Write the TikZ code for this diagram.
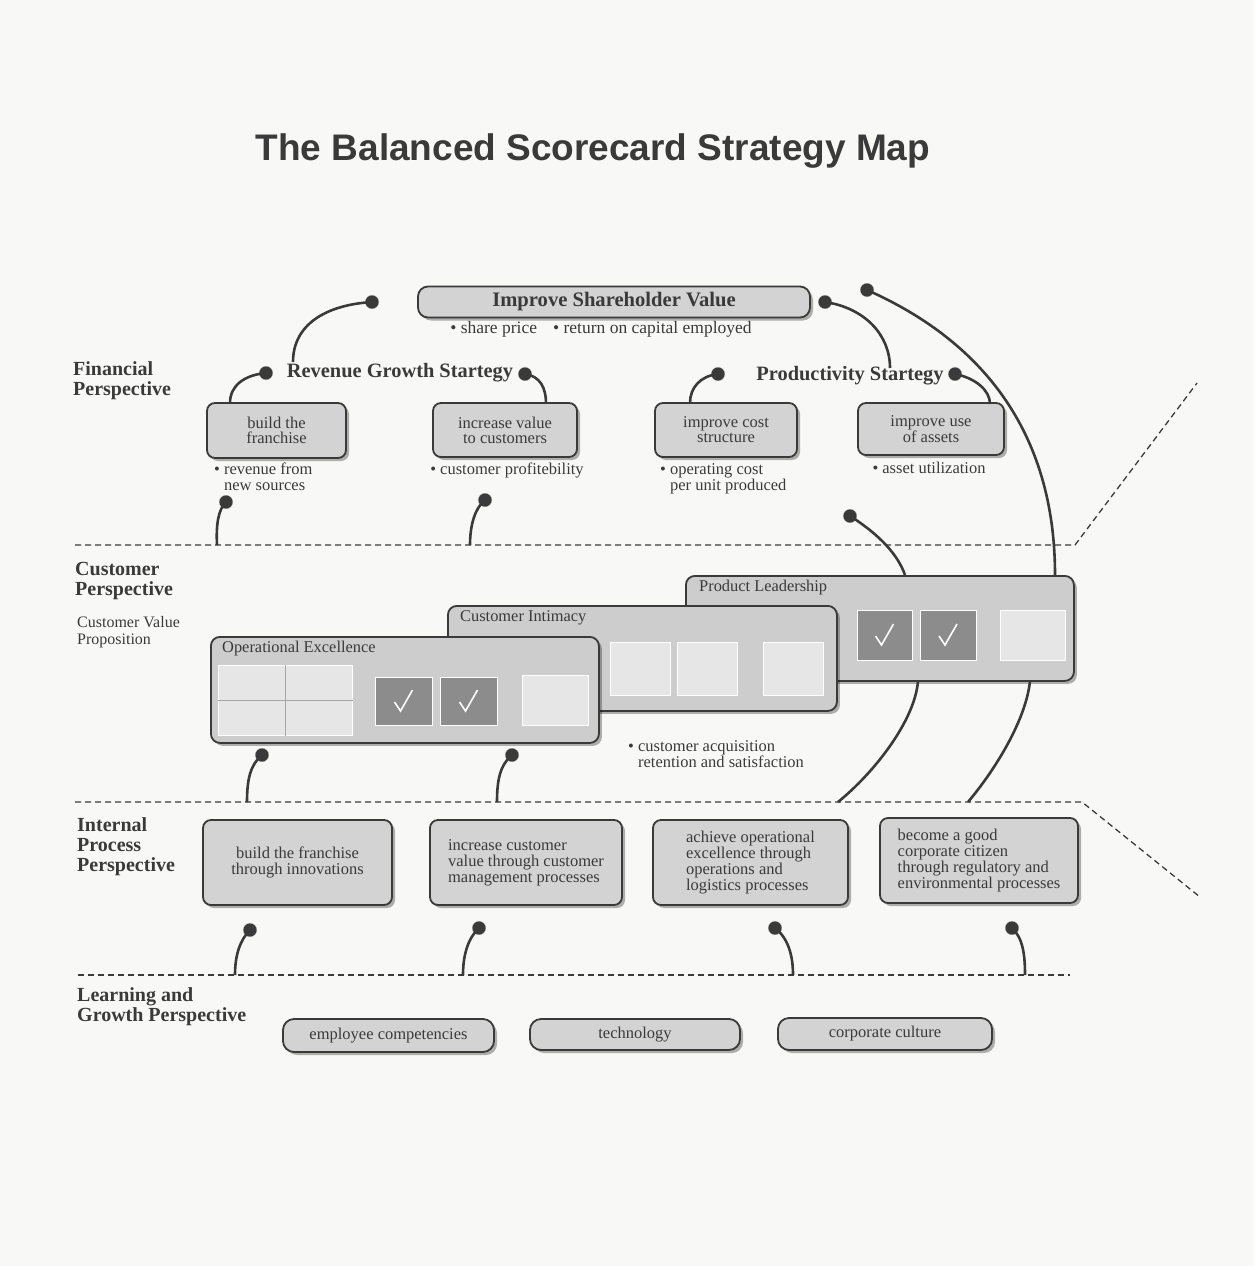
\documentclass[tikz,border=0pt]{standalone}
\usepackage{fontspec}
\setmainfont{Liberation Serif}
\newfontfamily\titlefont{Liberation Sans}
\usetikzlibrary{shadows}
\definecolor{ink}{HTML}{3A3A3A}
\definecolor{boxfill}{HTML}{D3D3D3}
\definecolor{cardfill}{HTML}{CDCDCD}
\definecolor{lightsq}{HTML}{E6E6E6}
\definecolor{darksq}{HTML}{8C8C8C}
\definecolor{bg}{HTML}{F8F9F7}
\definecolor{txt}{HTML}{3A3A3A}
\begin{document}
\begin{tikzpicture}[x=1pt,y=-1pt,
  every node/.style={text=txt, inner sep=0pt},
  shade box/.style={drop shadow={shadow xshift=3pt, shadow yshift=-3pt, fill=black, opacity=0.3}},
  box/.style={draw=ink, line width=1.8pt, rounded corners=8pt, fill=boxfill, shade box, align=center, font=\fontsize{16.5}{16}\selectfont},
  lbox/.style={box, rounded corners=11pt, font=\fontsize{16.5}{17}\selectfont},
  card/.style={draw=ink, line width=1.8pt, rounded corners=9pt, fill=cardfill, shade box},
  cardtitle/.style={anchor=north west, font=\fontsize{16.4}{17}\selectfont},
  lightq/.style={fill=lightsq, draw=white, line width=1pt},
  darkq/.style={fill=darksq, draw=white, line width=1pt},
  tick/.style={draw=white, line width=1.6pt},
  persp/.style={anchor=north west, align=left, font=\bfseries\fontsize{20}{20}\selectfont},
  sub/.style={align=left, font=\fontsize{16.5}{16}\selectfont},
  strat/.style={font=\bfseries\fontsize{20.4}{21}\selectfont},
  ball/.style={circle, fill=ink, minimum size=13pt, draw=gray!60, line width=1pt},
  conn/.style={draw=ink, line width=2.6pt},
  divider/.style={draw=ink, line width=1.3pt, dash pattern=on 6pt off 4pt}
]
% background / bounding box
\fill[bg] (0,0) rectangle (1254,1266);
\useasboundingbox (0,0) rectangle (1254,1266);

% title
\node[font=\titlefont\bfseries\fontsize{37}{40}\selectfont, text=ink] (title) at (593,151) {The Balanced Scorecard Strategy Map};

% perspective labels
\node[persp] (finp) at (73,361) {Financial\\Perspective};
\node[persp] (cusp) at (75,562) {Customer\\Perspective};
\node[anchor=north west, align=left, font=\fontsize{16}{17}\selectfont] (cvp) at (77,616) {Customer Value\\Proposition};
\node[persp] (intp) at (77,817) {Internal\\Process\\Perspective};
\node[persp] (lgp) at (77,987) {Learning and\\Growth Perspective};

% dividers
\coordinate (d1a) at (75,545); \coordinate (d1b) at (1075,545); \coordinate (d1c) at (1197,383);
\coordinate (d2a) at (75,802); \coordinate (d2b) at (1082,802); \coordinate (d2c) at (1200,897);
\coordinate (d3a) at (78,975); \coordinate (d3b) at (1070,975);
\draw[divider] (d1a) -- (d1b) -- (d1c);
\draw[divider] (d2a) -- (d2b) -- (d2c);
\draw[divider] (d3a) -- (d3b);

% financial perspective
\node[box, minimum width=392pt, minimum height=31pt, rounded corners=10pt, font=\bfseries\fontsize{20.6}{21}\selectfont] (shv) at (614,302) {Improve Shareholder Value};
\node[font=\fontsize{17.5}{16}\selectfont] (shvm) at (601,329) {• share price\hspace{16pt}• return on capital employed};
\node[strat] (rgs) at (400,373) {Revenue Growth Startegy};
\node[strat] (pds) at (850,376) {Productivity Startegy};

\node[box, minimum width=139pt, minimum height=55pt, font=\fontsize{16.5}{15}\selectfont] (f1) at (276.5,430.5) {build the\\franchise};
\node[box, minimum width=144pt, minimum height=54pt, font=\fontsize{16.5}{15}\selectfont] (f2) at (505,430) {increase value\\to customers};
\node[box, minimum width=142pt, minimum height=54pt, font=\fontsize{16.5}{15}\selectfont] (f3) at (726,430) {improve cost\\structure};
\node[box, minimum width=146pt, minimum height=52pt, font=\fontsize{16.5}{15}\selectfont] (f4) at (931,429) {improve use\\of assets};

\node[sub, anchor=north west] (f1m) at (214,463) {• revenue from\\\hphantom{• }new sources};
\node[sub, anchor=north] (f2m) at (507,463) {• customer profitebility};
\node[sub, anchor=north west] (f3m) at (660,463) {• operating cost\\\hphantom{• }per unit produced};
\node[sub, anchor=north] (f4m) at (929,462) {• asset utilization};

% customer perspective cards
\node[card, anchor=north west, minimum width=388pt, minimum height=105pt] (pl) at (685,575) {};
\node[cardtitle] (plt) at (699,580) {Product Leadership};
\node[darkq, minimum width=55pt, minimum height=50pt] (pl1) at (884.5,635) {};
\node[darkq, minimum width=56pt, minimum height=50pt] (pl2) at (948,635) {};
\node[lightq, minimum width=65pt, minimum height=50pt] (pl3) at (1032.5,635) {};
\draw[tick] ([shift={(-9,1)}]pl1.center) -- ([shift={(-3,10)}]pl1.center) -- ([shift={(9,-11)}]pl1.center);
\draw[tick] ([shift={(-9,1)}]pl2.center) -- ([shift={(-3,10)}]pl2.center) -- ([shift={(9,-11)}]pl2.center);

\node[card, anchor=north west, minimum width=389pt, minimum height=105pt] (ci) at (447,605) {};
\node[cardtitle] (cit) at (460,610) {Customer Intimacy};
\node[lightq, minimum width=60pt, minimum height=53pt] (ci1) at (640,668.5) {};
\node[lightq, minimum width=60pt, minimum height=53pt] (ci2) at (707,668.5) {};
\node[lightq, minimum width=60pt, minimum height=53pt] (ci3) at (793,668.5) {};

\node[card, anchor=north west, minimum width=388pt, minimum height=106pt] (oe) at (210,636) {};
\node[cardtitle] (oet) at (222,641) {Operational Excellence};
\node[lightq, minimum width=134pt, minimum height=70pt] (oeg) at (285,700) {};
\draw[draw=gray!70, line width=0.8pt] (oeg.north) -- (oeg.south);
\draw[draw=gray!70, line width=0.8pt] (oeg.west) -- (oeg.east);
\node[darkq, minimum width=57pt, minimum height=48pt] (oe1) at (403.5,701) {};
\node[darkq, minimum width=57pt, minimum height=48pt] (oe2) at (468.5,701) {};
\node[lightq, minimum width=66pt, minimum height=50pt] (oe3) at (555,700) {};
\draw[tick] ([shift={(-9,1)}]oe1.center) -- ([shift={(-3,10)}]oe1.center) -- ([shift={(9,-11)}]oe1.center);
\draw[tick] ([shift={(-9,1)}]oe2.center) -- ([shift={(-3,10)}]oe2.center) -- ([shift={(9,-11)}]oe2.center);

\node[sub, anchor=north west] (cm) at (628,740) {• customer acquisition\\\hphantom{• }retention and satisfaction};

% internal process boxes
\node[box, minimum width=189pt, minimum height=85pt] (i1) at (297.5,862.5) {build the franchise\\through innovations};
\node[box, minimum width=192pt, minimum height=85pt, align=left] (i2) at (526,862.5) {increase customer\\value through customer\\management processes};
\node[box, minimum width=195pt, minimum height=85pt, align=left] (i3) at (750.5,862.5) {achieve operational\\excellence through\\operations and\\logistics processes};
\node[box, minimum width=198pt, minimum height=85pt, align=left] (i4) at (979,860.5) {become a good\\corporate citizen\\through regulatory and\\environmental processes};

% learning and growth boxes
\node[lbox, minimum width=211pt, minimum height=33pt] (l1) at (388.5,1035.5) {employee competencies};
\node[lbox, minimum width=210pt, minimum height=31pt] (l2) at (635,1034.5) {technology};
\node[lbox, minimum width=214pt, minimum height=32pt] (l3) at (885,1034) {corporate culture};

% connector end points
\coordinate (eA) at (293,362);
\coordinate (eB) at (890,368);
\coordinate (eC) at (1055,575);
\coordinate (eRL) at (230,403);
\coordinate (eRR) at (546,403);
\coordinate (ePL) at (690,403);
\coordinate (ePR) at (990,404);
\coordinate (eF1) at (217,545);
\coordinate (eF2) at (470,545);
\coordinate (eF3) at (905,575);
\coordinate (eC1) at (247,802);
\coordinate (eC2) at (497,802);
\coordinate (sP1) at (918,681);
\coordinate (eP1) at (838,802);
\coordinate (sP2) at (1030,681);
\coordinate (eP2) at (968,802);
\coordinate (eI1) at (235,975);
\coordinate (eI2) at (463,975);
\coordinate (eI3) at (793,975);
\coordinate (eI4) at (1025,975);

% balls
\node[ball] (bA) at (372,302) {};
\node[ball] (bB) at (825,302) {};
\node[ball] (bC) at (867,290) {};
\node[ball] (bRL) at (266,373) {};
\node[ball] (bRR) at (525,374) {};
\node[ball] (bPL) at (718,374) {};
\node[ball] (bPR) at (955,374) {};
\node[ball] (bF1) at (226,502) {};
\node[ball] (bF2) at (485,500) {};
\node[ball] (bF3) at (850,516) {};
\node[ball] (bC1) at (262,755) {};
\node[ball] (bC2) at (512,755) {};
\node[ball] (bI1) at (250,930) {};
\node[ball] (bI2) at (479,928) {};
\node[ball] (bI3) at (775,928) {};
\node[ball] (bI4) at (1012,928) {};

% connectors
\draw[conn] (bA.center) .. controls (325,305) and (293,325) .. (eA);
\draw[conn] (bB.center) .. controls (865,308) and (890,335) .. (eB);
\draw[conn] (bC.center) .. controls (980,340) and (1055,430) .. (eC);
\draw[conn] (bRL.center) .. controls (245,375) and (230,385) .. (eRL);
\draw[conn] (bRR.center) .. controls (540,376) and (546,388) .. (eRR);
\draw[conn] (bPL.center) .. controls (700,376) and (690,388) .. (ePL);
\draw[conn] (bPR.center) .. controls (975,378) and (990,390) .. (ePR);
\draw[conn] (bF1.center) .. controls (218,510) and (216,525) .. (eF1);
\draw[conn] (bF2.center) .. controls (475,508) and (470,525) .. (eF2);
\draw[conn] (bF3.center) .. controls (880,535) and (898,555) .. (eF3);
\draw[conn] (bC1.center) .. controls (250,765) and (247,780) .. (eC1);
\draw[conn] (bC2.center) .. controls (500,765) and (497,780) .. (eC2);
\draw[conn] (sP1) .. controls (915,720) and (875,772) .. (eP1);
\draw[conn] (sP2) .. controls (1026,720) and (995,770) .. (eP2);
\draw[conn] (bI1.center) .. controls (240,940) and (235,955) .. (eI1);
\draw[conn] (bI2.center) .. controls (468,938) and (463,955) .. (eI2);
\draw[conn] (bI3.center) .. controls (788,938) and (793,955) .. (eI3);
\draw[conn] (bI4.center) .. controls (1023,938) and (1025,955) .. (eI4);
% balls drawn again over the line ends
\foreach \b in {bA,bB,bC,bRL,bRR,bPL,bPR,bF1,bF2,bF3,bC1,bC2,bI1,bI2,bI3,bI4}
  \fill[ink] (\b) circle (6.5pt);
\end{tikzpicture}
\end{document}
